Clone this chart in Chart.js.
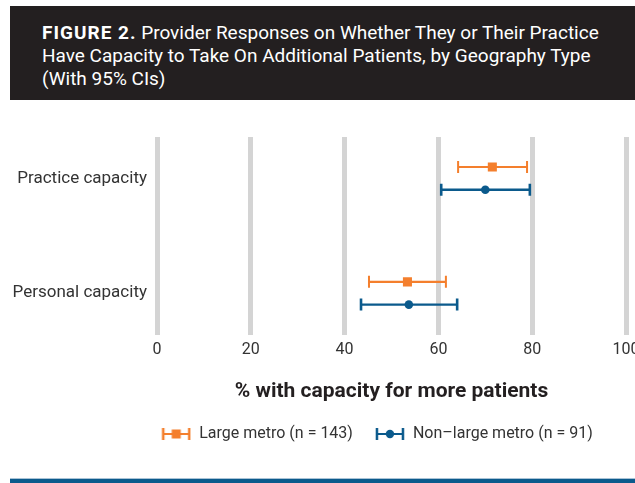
<!DOCTYPE html>
<html>
<head>
<meta charset="utf-8">
<script src="https://cdn.jsdelivr.net/npm/chart.js@4"></script>
<style>
  html, body { margin: 0; padding: 0; background: #fff; width: 635px; height: 483px; overflow: hidden; }
  #titlebox { position: absolute; left: 10px; top: 6px; width: 625px; height: 94px; background: #231f20; box-sizing: border-box; padding: 15px 0 0 32px; color: #fff; font-family: Roboto, "DejaVu Sans", sans-serif; font-size: 19px; line-height: 23px; white-space: nowrap; }
  #titlebox b { letter-spacing: 1px; font-weight: 700; }
  #wrap { position: absolute; left: 0; top: 100px; width: 635px; height: 375px; overflow: hidden; }
  #bottomline { position: absolute; left: 10px; top: 478px; width: 625px; height: 4px; background: #0b5a8c; border-top: 1px solid #a9c3d6; }
</style>
</head>
<body>
<div id="titlebox"><b>FIGURE 2.</b> Provider Responses on Whether They or Their Practice<br>Have Capacity to Take On Additional Patients, by Geography Type<br>(With 95% CIs)</div>
<div id="wrap"><canvas id="c" width="754" height="375"></canvas></div>
<div id="bottomline"></div>
<script>
const categories = ["Practice capacity", "Personal capacity"];
const seriesNames = ["Large metro (n = 143)", "Non\u2013large metro (n = 91)"];
const largeMetroEst = [71.5, 53.4];
const largeMetroLow = [64.2, 45.2];
const largeMetroHigh = [78.9, 61.6];
const nonLargeEst = [70.0, 53.7];
const nonLargeLow = [60.6, 43.5];
const nonLargeHigh = [79.5, 64.0];
const xTicks = [0, 20, 40, 60, 80, 100];

const ORANGE = '#f47f2d';
const BLUE = '#0b5a8c';
const FONT = 'Roboto, "DejaVu Sans", sans-serif';
const OFFSET = 0.099; // vertical offset of each series within its category (style)

function makeIcon(color, style) {
  const cv = document.createElement('canvas');
  cv.width = 30; cv.height = 14;
  const g = cv.getContext('2d');
  g.strokeStyle = color; g.fillStyle = color;
  g.lineWidth = 2;
  g.beginPath(); g.moveTo(2, 7); g.lineTo(28, 7); g.stroke();
  g.lineWidth = 2.5;
  g.beginPath(); g.moveTo(2, 1); g.lineTo(2, 13); g.moveTo(28, 1); g.lineTo(28, 13); g.stroke();
  if (style === 'rect') { g.fillRect(10.5, 2.5, 9, 9); }
  else { g.beginPath(); g.arc(15, 7, 4.2, 0, Math.PI * 2); g.fill(); }
  return cv;
}

const mkData = (est, low, high, off) => categories.map((c, i) => ({ x: est[i], y: i + off, lo: low[i], hi: high[i] }));

const errorBars = {
  id: 'errorBars',
  beforeDatasetsDraw(chart) {
    const ctx = chart.ctx;
    const xs = chart.scales.x, ys = chart.scales.y;
    chart.data.datasets.forEach((ds, di) => {
      ctx.save();
      ctx.strokeStyle = ds.borderColor;
      ds.data.forEach(p => {
        const y = ys.getPixelForValue(p.y);
        const x1 = xs.getPixelForValue(p.lo), x2 = xs.getPixelForValue(p.hi);
        ctx.lineWidth = ds.barWidth;
        ctx.beginPath(); ctx.moveTo(x1, y); ctx.lineTo(x2, y); ctx.stroke();
        ctx.lineWidth = ds.capWidth;
        ctx.beginPath();
        ctx.moveTo(x1, y - 6); ctx.lineTo(x1, y + 6);
        ctx.moveTo(x2, y - 6); ctx.lineTo(x2, y + 6);
        ctx.stroke();
      });
      ctx.restore();
    });
  }
};

const icons = [makeIcon(ORANGE, 'rect'), makeIcon(BLUE, 'circle')];

new Chart(document.getElementById('c'), {
  type: 'scatter',
  data: {
    datasets: [
      { label: seriesNames[0], data: mkData(largeMetroEst, largeMetroLow, largeMetroHigh, -OFFSET),
        backgroundColor: ORANGE, borderColor: ORANGE, pointStyle: 'rect', pointRadius: 6.4, pointBorderWidth: 0,
        barWidth: 2.2, capWidth: 2 },
      { label: seriesNames[1], data: mkData(nonLargeEst, nonLargeLow, nonLargeHigh, OFFSET),
        backgroundColor: BLUE, borderColor: BLUE, pointStyle: 'circle', pointRadius: 4.3, pointBorderWidth: 0,
        barWidth: 2.4, capWidth: 2.6 }
    ]
  },
  plugins: [errorBars],
  options: {
    responsive: false,
    animation: false,
    devicePixelRatio: 1,
    layout: { padding: { left: 0, right: 0, top: 37, bottom: 23 } },
    scales: {
      x: {
        type: 'linear', min: 0, max: 100,
        afterBuildTicks: s => { s.ticks = xTicks.map(v => ({ value: v })); },
        afterFit: s => { s.paddingRight = 128; s.paddingLeft = 0; },
        grid: { color: '#d4d4d4', lineWidth: 5, drawTicks: false },
        border: { display: false },
        ticks: { color: '#333', font: { family: FONT, size: 16 }, padding: 6, maxRotation: 0 },
        title: { display: true, text: '% with capacity for more patients', color: '#231f20',
                 font: { family: FONT, size: 21, weight: 'bold' }, padding: { top: 13, bottom: 0 } }
      },
      y: {
        type: 'linear', min: -0.36, max: 1.36, reverse: true,
        afterBuildTicks: s => { s.ticks = categories.map((c, i) => ({ value: i })); },
        afterFit: s => { s.width = 157; },
        grid: { display: false, drawTicks: false },
        border: { display: false },
        ticks: { color: '#333', font: { family: FONT, size: 17 }, padding: 10,
                 callback: v => categories[v] }
      }
    },
    plugins: {
      tooltip: { enabled: false },
      legend: {
        position: 'bottom', fullSize: true,
        labels: {
          usePointStyle: true, pointStyleWidth: 30, padding: 22,
          color: '#333', font: { family: FONT, size: 16 },
          generateLabels: chart => {
            const items = Chart.defaults.plugins.legend.labels.generateLabels(chart);
            items.forEach((it, i) => { it.pointStyle = icons[i]; });
            return items;
          }
        }
      }
    }
  }
});
</script>
</body>
</html>
